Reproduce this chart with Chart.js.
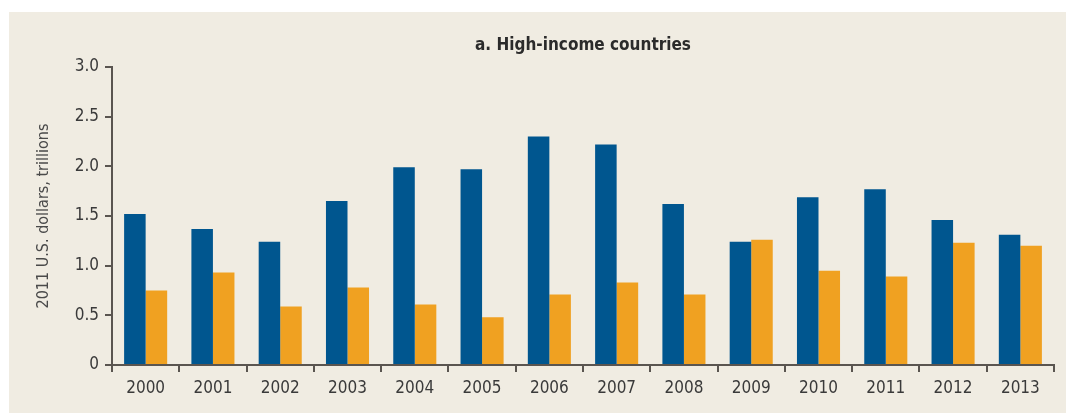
<!DOCTYPE html>
<html>
<head>
<meta charset="utf-8">
<script src="https://cdn.jsdelivr.net/npm/chart.js@4.4.1/dist/chart.umd.min.js"></script>
<style>
  html, body { margin: 0; padding: 0; background: #ffffff; }
  #wrap { position: relative; width: 1066px; height: 414px; }
  canvas { display: block; }
</style>
</head>
<body>
<div id="wrap"><canvas id="chart" width="1066" height="414"></canvas></div>
<script>
const years = ['2000','2001','2002','2003','2004','2005','2006','2007','2008','2009','2010','2011','2012','2013'];
const seriesBlue = [1.52, 1.37, 1.24, 1.65, 1.99, 1.97, 2.30, 2.22, 1.62, 1.24, 1.69, 1.77, 1.46, 1.31];
const seriesOrange = [0.75, 0.93, 0.59, 0.78, 0.61, 0.48, 0.71, 0.83, 0.71, 1.26, 0.95, 0.89, 1.23, 1.20];
const yTicks = [0, 0.5, 1.0, 1.5, 2.0, 2.5, 3.0];
const panelTitle = 'a. High-income countries';
const yAxisTitle = '2011 U.S. dollars, trillions';

const FONT = '"Liberation Sans Narrow", "DejaVu Sans Condensed", "Roboto Condensed", sans-serif';
const INK = '#3a3a3a';
const AXIS = '#5a5550';

// Beige panel behind the plot, plus the centered panel title
const panelPlugin = {
  id: 'panel',
  beforeDraw(chart) {
    const ctx = chart.ctx;
    ctx.save();
    ctx.fillStyle = '#f0ece2';
    ctx.fillRect(9, 12, chart.width - 9, chart.height - 13);
    ctx.restore();
  },
  afterDraw(chart) {
    const ctx = chart.ctx;
    const a = chart.chartArea;
    ctx.save();
    ctx.fillStyle = '#2b2b2b';
    ctx.font = 'bold 17px ' + FONT;
    ctx.textAlign = 'center';
    ctx.textBaseline = 'middle';
    ctx.fillText(panelTitle, (a.left + a.right) / 2, 46);
    ctx.restore();
  }
};

new Chart(document.getElementById('chart'), {
  type: 'bar',
  data: {
    labels: years,
    datasets: [
      { data: seriesBlue, backgroundColor: '#00568f', borderWidth: 0 },
      { data: seriesOrange, backgroundColor: '#f0a121', borderWidth: 0 }
    ]
  },
  options: {
    responsive: false,
    animation: false,
    devicePixelRatio: 1,
    layout: { padding: { top: 67, right: 12, left: 0, bottom: 0 } },
    datasets: { bar: { barPercentage: 1.0, categoryPercentage: 0.64 } },
    plugins: { legend: { display: false }, tooltip: { enabled: false } },
    scales: {
      x: {
        offset: true,
        grid: { display: true, drawOnChartArea: false, offset: true, tickLength: 7, color: AXIS, lineWidth: 2 },
        border: { display: true, color: AXIS, width: 2 },
        ticks: { color: INK, font: { family: FONT, size: 17 }, padding: 6 },
        afterFit(scale) { scale.height = 49; }
      },
      y: {
        min: 0,
        max: 3,
        afterBuildTicks(scale) { scale.ticks = yTicks.map(v => ({ value: v })); },
        grid: { display: true, drawOnChartArea: false, tickLength: 7, color: AXIS, lineWidth: 2 },
        border: { display: true, color: AXIS, width: 2 },
        ticks: {
          color: INK,
          font: { family: FONT, size: 17 },
          padding: 6,
          callback: v => (v === 0 ? '0' : v.toFixed(1))
        },
        title: {
          display: true,
          text: yAxisTitle,
          color: '#4a4a4a',
          font: { family: FONT, size: 16 },
          padding: { top: 34, bottom: 0 }
        },
        afterFit(scale) { scale.width = 112; }
      }
    }
  },
  plugins: [panelPlugin]
});
</script>
</body>
</html>
